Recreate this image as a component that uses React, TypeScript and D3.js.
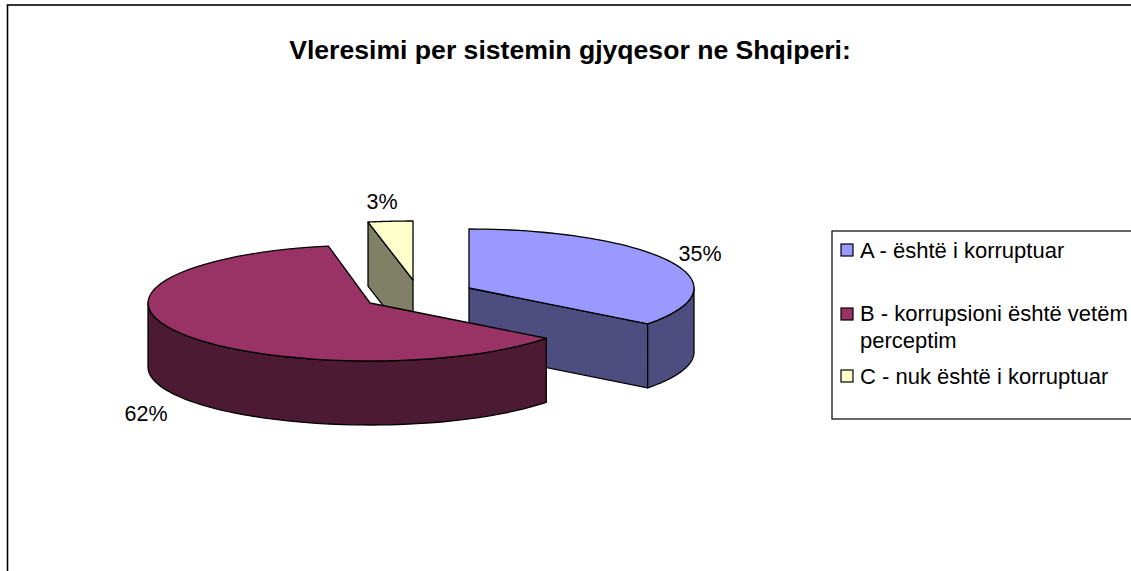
import React from "react";
import * as d3 from "d3";

const W = 1131, H = 571;
const titleText = "Vleresimi per sistemin gjyqesor ne Shqiperi:";
const categories = ["A - është i korruptuar", "B - korrupsioni është vetëm perceptim", "C - nuk është i korruptuar"];
const legendLines = [["A - është i korruptuar"], ["B - korrupsioni është vetëm", "perceptim"], ["C - nuk është i korruptuar"]];
const values = [35.4, 61.6, 3.0];
const labels = ["35%", "62%", "3%"];
const topColors = ["#9999FF", "#993366", "#FFFFCC"];
const sideColors = ["#4D4D80", "#4D1A33", "#808066"];
const centers: [number, number][] = [[469, 288], [370, 303], [413, 280]];
const radiiX = [225, 222, 240];
const radiiY = [59, 58, 59];
const labelPos: [number, number][] = [[700, 261], [146, 421], [382, 209]];
const legendY = [258, 321, 384];
const swatchY = [244, 308, 370];

const DEPTH = 64;
const pie = d3.pie<number>().sort(null).startAngle(0).endAngle(2 * Math.PI);
const arcs = pie(values);
const unit = d3.scaleLinear().domain([-1, 1]).range([-1, 1]);

const pt = (i: number, a: number, dz = 0): [number, number] => [
  centers[i][0] + radiiX[i] * unit(Math.sin(a)),
  centers[i][1] - radiiY[i] * unit(Math.cos(a)) + dz,
];
const sample = (i: number, a0: number, a1: number, dz = 0) =>
  d3.range(0, 61).map((k) => pt(i, a0 + ((a1 - a0) * k) / 60, dz));
const path = d3.line();
const closed = (pts: [number, number][]) => path(pts) + "Z";

const Poly = ({ pts, fill }: { pts: [number, number][]; fill: string }) => (
  <path d={closed(pts)} fill={fill} stroke="#000" strokeWidth={1.3} strokeLinejoin="round" />
);

const Slice = ({ i }: { i: number }) => {
  const { startAngle: s, endAngle: e } = arcs[i];
  const apex = centers[i];
  const apexLow: [number, number] = [apex[0], apex[1] + DEPTH];
  const faces: React.ReactNode[] = [];
  if (i === 2) {
    faces.push(<Poly key="cut" pts={[pt(i, s), apex, apexLow, pt(i, s, DEPTH)]} fill={sideColors[i]} />);
  }
  if (i === 0) {
    faces.push(<Poly key="cut" pts={[apex, pt(i, e), pt(i, e, DEPTH), apexLow]} fill={sideColors[i]} />);
  }
  const r0 = Math.max(s, Math.PI / 2);
  const r1 = Math.min(e, (3 * Math.PI) / 2);
  if (r1 > r0) {
    const rim = [...sample(i, r0, r1), ...sample(i, r1, r0, DEPTH)];
    faces.push(<Poly key="rim" pts={rim} fill={sideColors[i]} />);
  }
  return (
    <g>
      {faces}
      <Poly pts={[apex, ...sample(i, s, e)]} fill={topColors[i]} />
    </g>
  );
};

export default function App() {
  const font = "'Liberation Sans', Arial, sans-serif";
  return (
    <svg width={W} height={H} viewBox={`0 0 ${W} ${H}`} style={{ position: "absolute", left: 0, top: 0, background: "#fff" }} fontFamily={font}>
      <rect x={7.5} y={5} width={W + 20} height={H + 20} fill="#fff" stroke="#000" strokeWidth={1.6} />
      <text x={570} y={59} textAnchor="middle" fontSize={26.6} fontWeight="bold" fill="#000">{titleText}</text>
      <Slice i={2} />
      <Slice i={0} />
      <Slice i={1} />
      {labels.map((l, i) => (
        <text key={l} x={labelPos[i][0]} y={labelPos[i][1]} textAnchor="middle" fontSize={21.5} fill="#000">{l}</text>
      ))}
      <rect x={832} y={231} width={W} height={188} fill="#fff" stroke="#000" strokeWidth={1.2} />
      {categories.map((c, i) => (
        <g key={c}>
          <rect x={841} y={swatchY[i]} width={12} height={12} fill={topColors[i]} stroke="#000" strokeWidth={1.2} />
          {legendLines[i].map((t, j) => (
            <text key={t} x={860} y={legendY[i] + j * 27} fontSize={22} fill="#000">{t}</text>
          ))}
        </g>
      ))}
    </svg>
  );
}
